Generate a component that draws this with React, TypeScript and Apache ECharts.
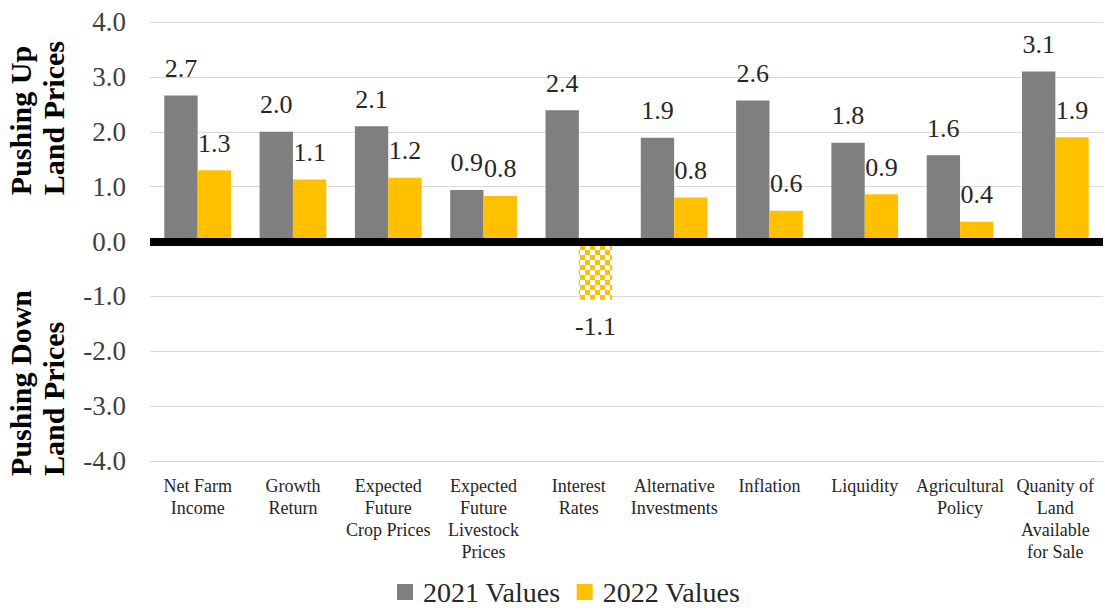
import React, { useEffect, useRef } from "react";
import * as echarts from "echarts";

const categories = [
  "Net Farm\nIncome",
  "Growth\nReturn",
  "Expected\nFuture\nCrop Prices",
  "Expected\nFuture\nLivestock\nPrices",
  "Interest\nRates",
  "Alternative\nInvestments",
  "Inflation",
  "Liquidity",
  "Agricultural\nPolicy",
  "Quanity of\nLand\nAvailable\nfor Sale",
];
const values2021 = [2.66, 2.0, 2.1, 0.94, 2.39, 1.89, 2.57, 1.8, 1.57, 3.1];
const values2022 = [1.3, 1.13, 1.16, 0.83, -1.06, 0.8, 0.56, 0.86, 0.36, 1.9];
const yTicks = [-4, -3, -2, -1, 0, 1, 2, 3, 4];

const GRAY = "#7F7F7F";
const GOLD = "#FFC000";
const FONT = "Liberation Serif";

export default function App() {
  const ref = useRef<HTMLDivElement>(null);
  useEffect(() => {
    if (!ref.current) return;
    const chart = echarts.init(ref.current, undefined, { renderer: "svg" });
    const labelBase = {
      show: true,
      fontFamily: FONT,
      fontSize: 26,
      color: "#262626",
      distance: 14,
      formatter: (p: any) => (p.value as number).toFixed(1),
    };
    chart.setOption({
      animation: false,
      textStyle: { fontFamily: FONT },
      grid: { left: 150, right: 2, top: 22, bottom: 152, containLabel: false },
      xAxis: {
        type: "category",
        data: categories,
        axisLine: { show: false, onZero: false },
        axisTick: { show: false },
        axisLabel: {
          interval: 0,
          fontFamily: FONT,
          fontSize: 18,
          lineHeight: 22,
          color: "#262626",
          margin: 14,
          verticalAlign: "top",
        },
      },
      yAxis: {
        type: "value",
        min: yTicks[0],
        max: yTicks[yTicks.length - 1],
        interval: 1,
        axisLine: { show: false },
        axisTick: { show: false },
        splitLine: { lineStyle: { color: "#D9D9D9", width: 1 } },
        axisLabel: {
          fontFamily: FONT,
          fontSize: 27,
          color: "#404040",
          margin: 24,
          formatter: (v: number) => v.toFixed(1),
        },
      },
      legend: {
        bottom: 2,
        left: 392,
        itemWidth: 16,
        itemHeight: 16,
        itemGap: 16,
        icon: "rect",
        textStyle: {
          fontFamily: FONT,
          fontSize: 28,
          color: "#262626",
          padding: [0, 0, 0, 5],
        },
        data: ["2021 Values", "2022 Values"],
      },
      graphic: [
        {
          type: "text",
          left: 4,
          top: 41,
          rotation: Math.PI / 2,
          style: {
            text: "Pushing Up\nLand Prices",
            font: `bold 30px ${FONT}`,
            fill: "#000",
            lineHeight: 33,
            align: "center",
          },
        },
        {
          type: "text",
          left: 4,
          top: 290,
          rotation: Math.PI / 2,
          style: {
            text: "Pushing Down\nLand Prices",
            font: `bold 30px ${FONT}`,
            fill: "#000",
            lineHeight: 33,
            align: "center",
          },
        },
      ],
      series: [
        {
          name: "2021 Values",
          type: "bar",
          data: values2021,
          barGap: "0%",
          barCategoryGap: "30%",
          itemStyle: { color: GRAY },
          label: { ...labelBase, position: "top" },
          markLine: {
            silent: true,
            symbol: ["none", "none"],
            label: { show: false },
            lineStyle: { color: "#000", width: 8, type: "solid" },
            data: [{ yAxis: 0 }],
            z: 10,
          },
        },
        {
          name: "2022 Values",
          type: "bar",
          data: values2022.map((v) =>
            v < 0
              ? {
                  value: v,
                  itemStyle: {
                    color: "#FFFFFF",
                    decal: {
                      symbol: "rect",
                      symbolSize: 1,
                      color: GOLD,
                      dashArrayX: [
                        [5, 5],
                        [0, 5, 5, 0],
                      ],
                      dashArrayY: [5, 0],
                      rotation: 0,
                    },
                  },
                  label: { position: "bottom" },
                }
              : v
          ),
          itemStyle: { color: GOLD },
          label: { ...labelBase, position: "top" },
        },
      ],
    });
    return () => chart.dispose();
  }, []);
  return (
    <div
      ref={ref}
      style={{ position: "absolute", left: 0, top: 0, width: 1105, height: 613 }}
    />
  );
}
